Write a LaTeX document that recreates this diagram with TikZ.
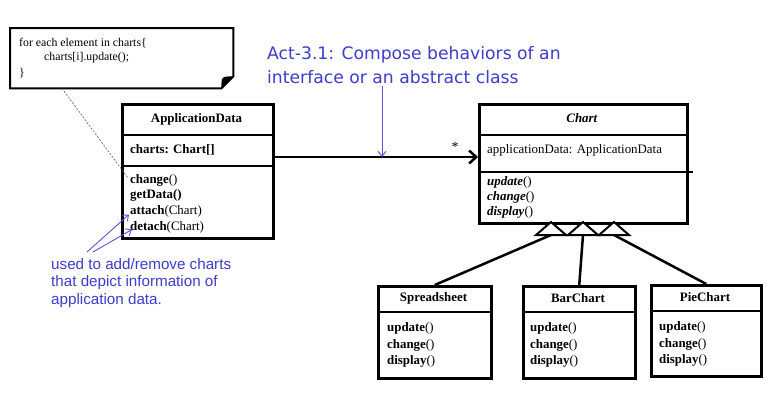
\documentclass[tikz,border=0pt]{standalone}
\usepackage{fontspec}
\setmainfont{Liberation Serif}
\newfontfamily\actfont{DejaVu Sans}
\newfontfamily\armfont{Liberation Sans}
\usetikzlibrary{arrows.meta}
\definecolor{textblue}{RGB}{60,60,205}
\definecolor{arrowblue}{RGB}{85,85,220}
\begin{document}
\begin{tikzpicture}[x=1pt,y=-1pt,
  classbox/.style={draw, line width=2.5pt, anchor=north west, inner sep=0pt},
  divider/.style={line width=2pt},
  txt/.style={anchor=west, inner sep=0pt, font=\fontsize{12.9}{14}\selectfont},
  ttl/.style={inner sep=0pt, font=\fontsize{12.9}{14}\selectfont\bfseries},
  notetxt/.style={anchor=west, inner sep=0pt, font=\fontsize{11.8}{13}\selectfont},
  assoc/.style={line width=2.5pt, -{Straight Barb[length=7pt,width=13pt,line width=2.5pt]}},
  genline/.style={line width=2.5pt},
  tri/.style={line width=2pt, fill=white, line join=miter},
  bluearrow/.style={draw=arrowblue, line width=0.9pt, -{Straight Barb[length=5pt,width=8pt]}},
]
\useasboundingbox (0,0) rectangle (780,400);

% note
\node[anchor=north west, minimum width=223pt, minimum height=60pt, inner sep=0pt] (note) at (10,28) {};
\draw[line width=2pt, line join=miter] (note.north west) -- (note.north east) -- ([yshift=12pt]note.south east) -- ([xshift=-12pt]note.south east) -- (note.south west) -- cycle;
\fill ([yshift=12pt]note.south east) .. controls ([xshift=-12pt,yshift=12pt]note.south east) .. ([xshift=-12pt]note.south east) -- cycle;
\node[notetxt] (n1) at (19,43) {for each element in charts\{};
\node[notetxt] (n2) at (44,58) {charts[i].update();};
\node[notetxt] (n3) at (19,73) {\}};

% ApplicationData
\node[classbox, minimum width=151pt, minimum height=134pt] (app) at (121,103) {};
\draw[divider] ([yshift=-32pt]app.north west) -- ([yshift=-32pt]app.north east);
\draw[divider] ([yshift=-63pt]app.north west) -- ([yshift=-63pt]app.north east);
\node[ttl] (appT) at (196.5,119) {ApplicationData};
\node[txt] (appA) at (130,150) {\textbf{charts: Chart[]}};
\node[txt] (appM1) at (130,180) {\textbf{change}()};
\node[txt] (appM2) at (130,195) {\textbf{getData()}};
\node[txt] (appM3) at (130,211) {\textbf{attach}(Chart)};
\node[txt] (appM4) at (130,227) {\textbf{detach}(Chart)};

% Chart
\node[classbox, minimum width=208pt, minimum height=119pt] (chart) at (478,103) {};
\draw[divider] ([yshift=-32pt]chart.north west) -- ([yshift=-32pt]chart.north east);
\draw[divider] ([yshift=-69pt]chart.north west) -- ([yshift=-69pt,xshift=4pt]chart.north east);
\node[ttl] (chartT) at (582,118) {\textit{Chart}};
\node[txt] (chartA) at (487,150) {applicationData: ApplicationData};
\node[txt] (chartM1) at (487,182) {\textbf{\textit{update}}()};
\node[txt] (chartM2) at (487,197) {\textbf{\textit{change}}()};
\node[txt] (chartM3) at (487,212) {\textbf{\textit{display}}()};

% association
\draw[assoc] ([yshift=-54pt]app.north east) -- ([yshift=-54pt]chart.north west);
\node[inner sep=0pt, font=\fontsize{14}{14}\selectfont] (star) at (455,147) {*};

% subclasses
\node[classbox, minimum width=113pt, minimum height=92pt] (spread) at (377,285) {};
\draw[divider] ([yshift=-27pt]spread.north west) -- ([yshift=-27pt]spread.north east);
\node[ttl] (spreadT) at (433.5,298) {Spreadsheet};
\node[txt] (s1) at (387,328) {\textbf{update}()};
\node[txt] (s2) at (387,345) {\textbf{change}()};
\node[txt] (s3) at (387,361) {\textbf{display}()};

\node[classbox, minimum width=112pt, minimum height=92pt] (bar) at (522,285) {};
\draw[divider] ([yshift=-27pt]bar.north west) -- ([yshift=-27pt]bar.north east);
\node[ttl] (barT) at (578,298) {BarChart};
\node[txt] (b1) at (530,328) {\textbf{update}()};
\node[txt] (b2) at (530,345) {\textbf{change}()};
\node[txt] (b3) at (530,361) {\textbf{display}()};

\node[classbox, minimum width=110pt, minimum height=91pt] (pie) at (650,284) {};
\draw[divider] ([yshift=-27pt]pie.north west) -- ([yshift=-27pt]pie.north east);
\node[ttl] (pieT) at (705,297) {PieChart};
\node[txt] (p1) at (659,327) {\textbf{update}()};
\node[txt] (p2) at (659,344) {\textbf{change}()};
\node[txt] (p3) at (659,360) {\textbf{display}()};

% generalization
\coordinate (g1) at (551,235);
\coordinate (g2) at (583,235);
\coordinate (g3) at (614,235);
\draw[genline] (g1) -- (spread.north);
\draw[genline] (g2) -- (bar.north);
\draw[genline] (g3) -- (pie.north);
\draw[tri] (g1) ++(-15,0) -- ++(15,-13) -- ++(15,13) -- cycle;
\draw[tri] (g2) ++(-15,0) -- ++(15,-13) -- ++(15,13) -- cycle;
\draw[tri] (g3) ++(-15,0) -- ++(15,-13) -- ++(15,13) -- cycle;

% dashed note link
\draw[gray!70!black, line width=0.6pt, dash pattern=on 2pt off 1.5pt] ([xshift=52pt]note.south west) -- ([xshift=7pt,yshift=-75pt]app.north west);

% Act annotation
\node[anchor=north west, inner sep=0pt, align=left, text=textblue, font=\actfont\fontsize{17.2}{24}\selectfont] (act) at (267,46) {Act-3.1: Compose behaviors of an\\interface or an abstract class};
\coordinate (actTip) at (382,157);
\draw[bluearrow] ([yshift=-2pt]act.south -| actTip) -- (actTip);

% used-to annotation
\node[anchor=north west, inner sep=0pt, align=left, text=textblue, font=\armfont\fontsize{15.2}{17.5}\selectfont] (used) at (51,258) {used to add/remove charts\\that depict information of\\application data.};
\draw[bluearrow] ([xshift=36pt,yshift=6pt]used.north west) -- ([xshift=8pt,yshift=25pt]app.south west);
\draw[bluearrow] ([xshift=42pt,yshift=6pt]used.north west) -- ([xshift=11pt,yshift=10pt]app.south west);
\end{tikzpicture}
\end{document}
